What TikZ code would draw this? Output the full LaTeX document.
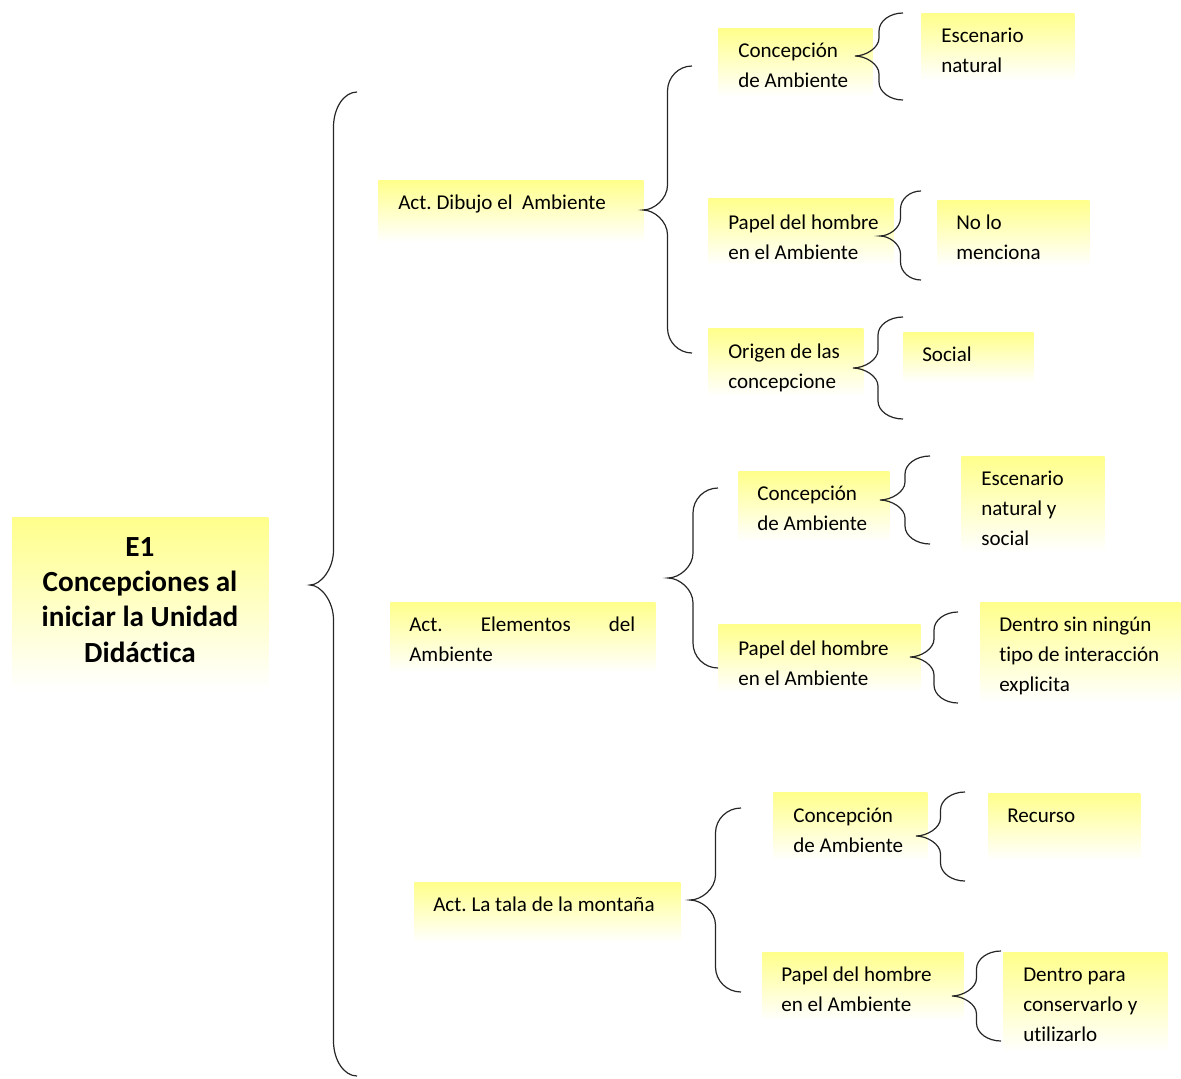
\documentclass[tikz,border=0pt]{standalone}
\usepackage{fontspec}
\setmainfont{Carlito}[Ligatures={NoCommon}]
\frenchspacing
\definecolor{by}{RGB}{255,255,140}
\tikzset{
  ybox/.style={draw=none, inner sep=0pt, anchor=north west, top color=by, bottom color=white, middle color=by!50},
  txt/.style={inner sep=0pt, anchor=base west, align=left, font=\fontsize{15.8}{22.5}\selectfont},
  bigtxt/.style={inner sep=0pt, anchor=base, align=center, font=\bfseries\fontsize{21.9}{26.5}\selectfont},
  bracel/.style={draw=black!85, line width=0.9pt}
}
% tipx, tipy, rightx, top, bottom, r
\newcommand{\cbrace}[6]{%
  \pgfmathsetmacro\bm{(#1+#3)/2}%
  \draw[bracel] (#3,#4) .. controls (#3-0.55*#3+0.55*\bm,#4) and (\bm,#4+0.45*#6) .. (\bm,#4+#6)
    -- (\bm,#2-#6) .. controls (\bm,#2-0.45*#6) and (#1+0.45*\bm-0.45*#1,#2) .. (#1,#2)
    .. controls (#1+0.45*\bm-0.45*#1,#2) and (\bm,#2+0.45*#6) .. (\bm,#2+#6)
    -- (\bm,#5-#6) .. controls (\bm,#5-0.45*#6) and (#3-0.55*#3+0.55*\bm,#5) .. (#3,#5);}
% name, x1, y1, x2, y2
\newcommand{\ybx}[5]{\node[ybox, minimum width={(#4-#2)*0.75pt}, minimum height={(#5-#3)*0.75pt}] (#1) at (#2,#3) {};}
\begin{document}
\begin{tikzpicture}[x=0.75pt,y=-0.75pt]
\useasboundingbox (0,0) rectangle (1181,1078);
% boxes
\ybx{root}{12}{517}{268}{690}
\ybx{d1}{378}{180}{643}{242}
\ybx{d2}{390}{602}{655}{672}
\ybx{d3}{414}{882}{680}{942}
\ybx{a1}{718}{28}{872}{96}
\ybx{a1r}{921}{13}{1074}{80}
\ybx{a2}{708}{198}{893}{265}
\ybx{a2r}{937}{200}{1089}{266}
\ybx{a3}{708}{328}{863}{396}
\ybx{a3r}{903}{332}{1033}{382}
\ybx{b1}{738}{471}{889}{541}
\ybx{b1r}{961}{456}{1104}{552}
\ybx{b2}{718}{624}{920}{692}
\ybx{b2r}{980}{602}{1180}{702}
\ybx{c1}{773}{792}{927}{860}
\ybx{c1r}{988}{793}{1140}{860}
\ybx{c2}{762}{952}{963}{1020}
\ybx{c2r}{1003}{952}{1167}{1052}
% texts (anchor = baseline of the last line)
\node[bigtxt] (troot) at (140,662) {E1\\Concepciones al\\iniciar la Unidad\\Didáctica};
\node[txt] (td1) at (398,209) {Act. Dibujo el\ \ Ambiente};
\node[txt, text width=169.5pt, align=justify] (td2) at (409,631) {Act.\hfill Elementos\hfill del\\Ambiente};
\node[txt] (td3) at (433,911) {Act. La tala de la montaña};
\node[txt] (ta1) at (738,87) {Concepción\\de Ambiente};
\node[txt] (ta1r) at (941,72) {Escenario\\natural};
\node[txt] (ta2) at (728,259) {Papel del hombre\\en el Ambiente};
\node[txt] (ta2r) at (956,259) {No lo\\menciona};
\node[txt] (ta3) at (728,388) {Origen de las\\concepcione};
\node[txt] (ta3r) at (922,361) {Social};
\node[txt] (tb1) at (757,530) {Concepción\\de Ambiente};
\node[txt] (tb1r) at (981,545) {Escenario\\natural y\\social};
\node[txt] (tb2) at (738,685) {Papel del hombre\\en el Ambiente};
\node[txt] (tb2r) at (999,691) {Dentro sin ningún\\tipo de interacción\\explicita};
\node[txt] (tc1) at (793,852) {Concepción\\de Ambiente};
\node[txt] (tc1r) at (1007,822) {Recurso};
\node[txt] (tc2) at (781,1011) {Papel del hombre\\en el Ambiente};
\node[txt] (tc2r) at (1023,1041) {Dentro para\\conservarlo y\\utilizarlo};
% braces
\cbrace{310}{585}{357}{92}{1076}{35}
\cbrace{643}{210}{692}{66}{353}{25}
\cbrace{668}{578}{718}{488}{668}{25}
\cbrace{690}{900}{741}{808}{992}{25}
\cbrace{855}{56}{903}{13}{100}{18}
\cbrace{880}{236}{921}{191}{280}{18}
\cbrace{853}{368}{903}{317}{419}{18}
\cbrace{880}{500}{930}{456}{544}{18}
\cbrace{910}{657}{958}{612}{703}{18}
\cbrace{916}{836}{965}{792}{881}{18}
\cbrace{952}{996}{1001}{951}{1041}{18}
\end{tikzpicture}
\end{document}
